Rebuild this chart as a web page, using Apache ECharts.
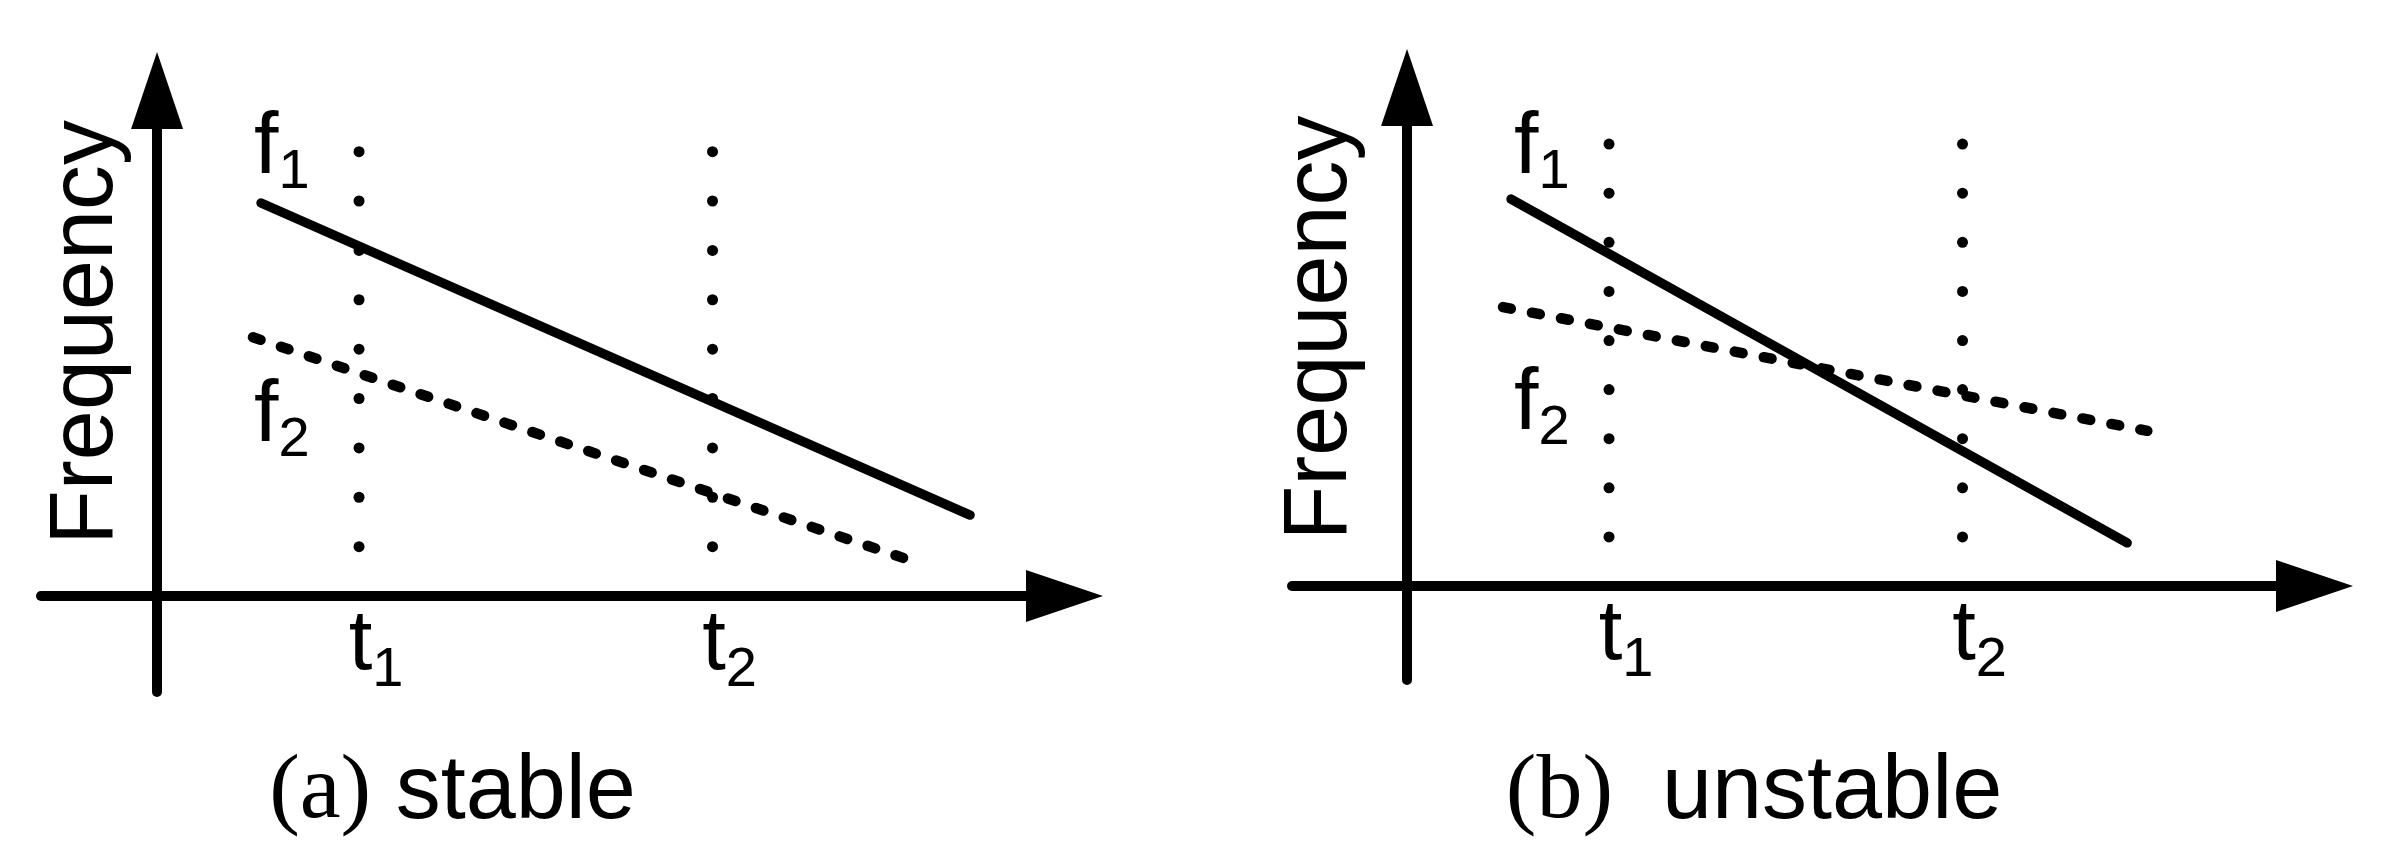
<!DOCTYPE html>
<html><head><meta charset="utf-8">
<script src="https://cdn.jsdelivr.net/npm/echarts@6/dist/echarts.min.js"></script>
<style>html,body{margin:0;padding:0;background:#fff}#c{width:2389px;height:864px}</style>
</head><body><div id="c"></div>
<script>
// ---------------- data ----------------
const timeMarks = [2, 5.5];              // t1, t2 on the time axis
const timeSubs = ['1', '2'];             // tick label subscripts
const guideLevels = [1, 2, 3, 4, 5, 6, 7, 8, 9]; // dotted guide dots (frequency units)
const stableF1 = [[1.03, 7.96], [8.05, 1.64]];
const stableF2 = [[0.95, 5.24], [7.39, 0.77]];
const unstableF1 = [[1.03, 7.88], [7.13, 0.88]];
const unstableF2 = [[0.95, 5.68], [7.33, 3.16]];
const seriesSubs = ['1', '2'];
const panelTags = ['(a)', '(b)'];
const panelWords = ['stable', 'unstable'];
const axisTitle = 'Frequency';

// ---------------- layout / style ----------------
const SANS = '"Liberation Sans", Arial, sans-serif';
const SERIF = '"Liberation Serif", "Times New Roman", serif';
const panels = [
  { grid: {left: 41, top: 90.5, width: 1023.5, height: 601.5}, x: [-1.149, 8.985], y: [-1.944, 10.238],
    f1: stableF1, f2: stableF2, f1Off: [-6, -97.5], f2Off: [2, 36.5], labelMargin: -89,
    titleX: 87, titleY: 332.5, capX: 452.5, capSep: ' ' },
  { grid: {left: 1292, top: 87.5, width: 1022.5, height: 592.5}, x: [-1.139, 8.985], y: [-1.914, 10.153],
    f1: unstableF1, f2: unstableF2, f1Off: [4, -93.5], f2Off: [12, 54.5], labelMargin: -87,
    titleX: 1321, titleY: 328, capX: 1754, capSep: '  ' }
];
const capY = 793;

const subRich = {
  f: {fontSize: 88, fontFamily: SANS, lineHeight: 88, verticalAlign: 'top', color: '#000'},
  s: {fontSize: 56, fontFamily: SANS, lineHeight: 56, padding: [40, 0, 0, 0], verticalAlign: 'top', color: '#000'}
};
const tickRich = {
  p: {width: 34, fontSize: 85, fontFamily: SANS, lineHeight: 85, verticalAlign: 'top'},
  t: {fontSize: 85, fontFamily: SANS, lineHeight: 85, verticalAlign: 'top', color: '#000'},
  s: {fontSize: 56, fontFamily: SANS, lineHeight: 56, padding: [40, 0, 0, 0], verticalAlign: 'top', color: '#000'}
};

const grids = [], xAxes = [], yAxes = [], series = [], graphics = [];
const axisLineStyle = {color: '#000', width: 10, cap: 'round'};

function labeledData(points, sub, off) {
  return points.map((p, i) => i === 0 ? {
    value: p,
    label: {show: true, position: off, formatter: '{f|f}{s|' + sub + '}', rich: subRich}
  } : p);
}

panels.forEach((P, gi) => {
  grids.push(Object.assign({outerBoundsMode: 'none', containLabel: false}, P.grid));
  xAxes.push({
    type: 'value', gridIndex: gi, min: P.x[0], max: P.x[1],
    axisLine: {show: true, onZero: true, symbol: ['none', 'triangle'], symbolSize: [52, 77], lineStyle: axisLineStyle},
    axisTick: {show: false}, splitLine: {show: false},
    axisLabel: {
      show: true, customValues: timeMarks, margin: P.labelMargin, color: '#000',
      formatter: v => '{p| }{t|t}{s|' + timeSubs[timeMarks.indexOf(v)] + '}',
      rich: tickRich
    }
  });
  yAxes.push({
    type: 'value', gridIndex: gi, min: P.y[0], max: P.y[1],
    axisLine: {show: true, onZero: true, symbol: ['none', 'triangle'], symbolSize: [52, 77], lineStyle: axisLineStyle},
    axisTick: {show: false}, splitLine: {show: false}, axisLabel: {show: false}
  });
  const dots = [];
  timeMarks.forEach(t => guideLevels.forEach(l => dots.push([t, l])));
  series.push({
    type: 'scatter', xAxisIndex: gi, yAxisIndex: gi, data: dots, symbolSize: 11,
    itemStyle: {color: '#000', opacity: 1}, silent: true, z: 1
  });
  series.push({
    type: 'line', xAxisIndex: gi, yAxisIndex: gi, name: 'f' + seriesSubs[0],
    data: labeledData(P.f1, seriesSubs[0], P.f1Off),
    symbol: 'circle', symbolSize: 2, showSymbol: true, itemStyle: {color: '#000'},
    lineStyle: {color: '#000', width: 9.5, cap: 'round'}, silent: true, z: 3
  });
  series.push({
    type: 'line', xAxisIndex: gi, yAxisIndex: gi, name: 'f' + seriesSubs[1],
    data: labeledData(P.f2, seriesSubs[1], P.f2Off),
    symbol: 'circle', symbolSize: 2, showSymbol: true, itemStyle: {color: '#000'},
    lineStyle: {color: '#000', width: 10.5, type: [8, 21.5], cap: 'round'}, silent: true, z: 3
  });
  graphics.push({
    type: 'text', x: P.titleX, y: P.titleY, rotation: Math.PI / 2, silent: true,
    style: {x: 0, y: 0, text: axisTitle, fontSize: 90, fontFamily: SANS, fill: '#000',
      align: 'center', verticalAlign: 'middle', textAlign: 'center', textVerticalAlign: 'middle'}
  });
  graphics.push({
    type: 'text', x: P.capX, y: capY, silent: true,
    style: {x: 0, y: 0, text: '{a|' + panelTags[gi] + '}' + P.capSep + '{b|' + panelWords[gi] + '}',
      fontSize: 88, fontFamily: SANS, fill: '#000',
      rich: {a: {fontSize: 92, fontFamily: SERIF, lineHeight: 100, fill: '#000', color: '#000'},
             b: {fontSize: 90, fontFamily: SANS, lineHeight: 100, fill: '#000', color: '#000'}},
      align: 'center', verticalAlign: 'middle', textAlign: 'center', textVerticalAlign: 'middle'}
  });
});

const chart = echarts.init(document.getElementById('c'), null, {renderer: 'canvas'});
chart.setOption({
  animation: false,
  backgroundColor: '#fff',
  grid: grids, xAxis: xAxes, yAxis: yAxes, series: series, graphic: graphics
});
</script></body></html>
